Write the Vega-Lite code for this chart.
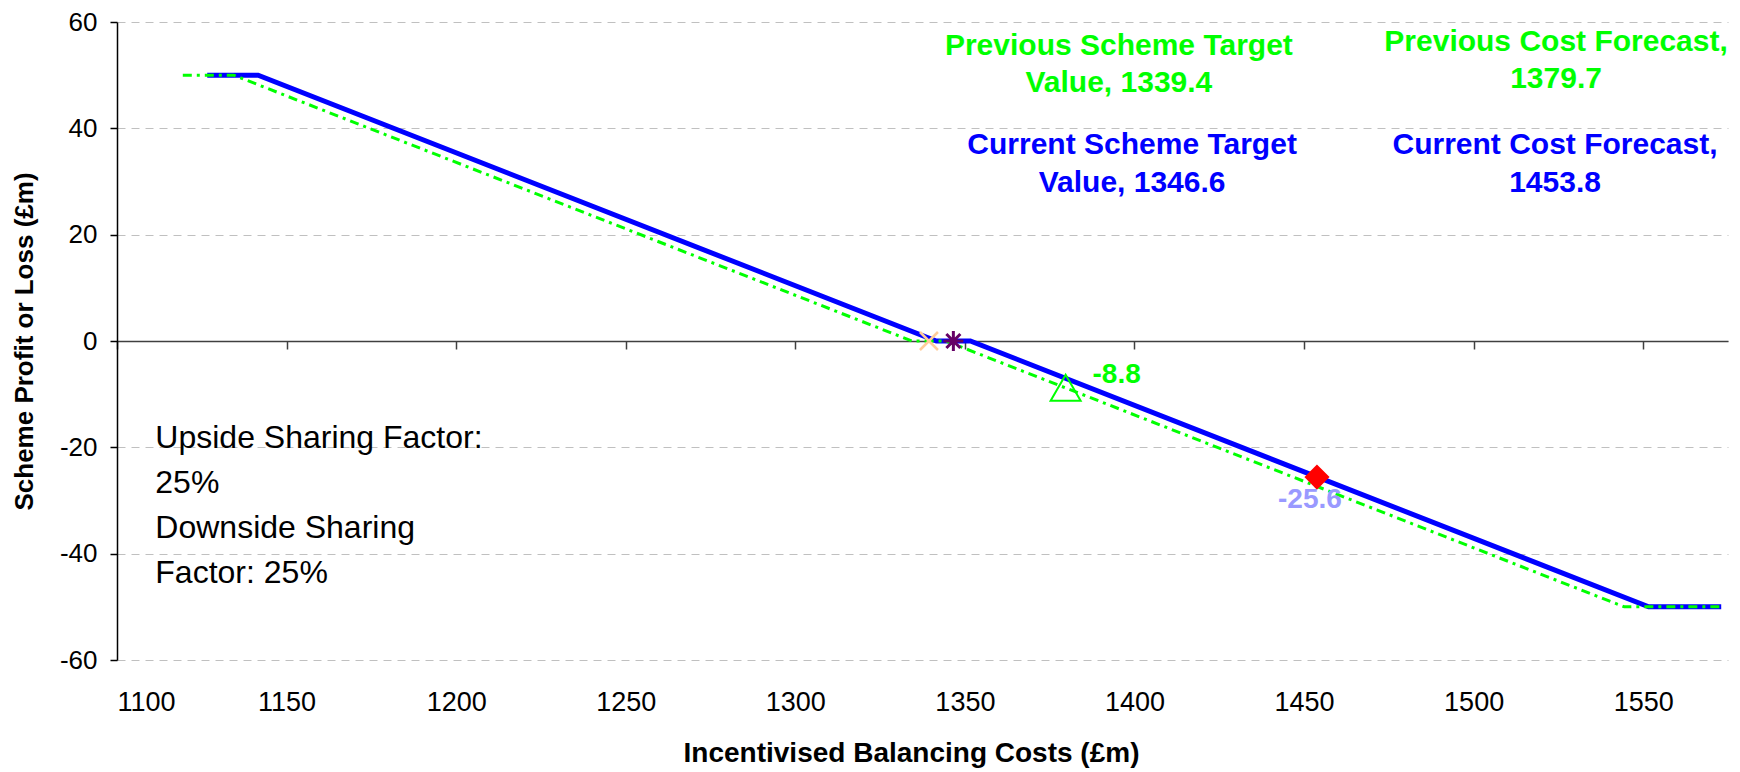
{
  "$schema": "https://vega.github.io/schema/vega-lite/v6.json",
  "autosize": "none",
  "width": 1611,
  "height": 638,
  "padding": {"left": 117, "top": 22, "right": 12, "bottom": 112},
  "background": "white",
  "config": {"view": {"stroke": null}, "font": "Liberation Sans"},
  "datasets": {
    "current": [
      {"cost": 1126.6, "profit": 50},
      {"cost": 1141.6, "profit": 50},
      {"cost": 1341.6, "profit": 0},
      {"cost": 1351.6, "profit": 0},
      {"cost": 1551.6, "profit": -50},
      {"cost": 1573, "profit": -50}
    ],
    "previous": [
      {"cost": 1119.4, "profit": 50},
      {"cost": 1134.4, "profit": 50},
      {"cost": 1334.4, "profit": 0},
      {"cost": 1344.4, "profit": 0},
      {"cost": 1544.4, "profit": -50},
      {"cost": 1573, "profit": -50}
    ],
    "markers": [
      {"cost": 1339.4, "profit": 0, "series": "prevTarget", "label": ""},
      {"cost": 1346.6, "profit": 0, "series": "curTarget", "label": ""},
      {"cost": 1379.7, "profit": -8.8, "series": "prevForecast", "label": "-8.8"},
      {"cost": 1453.8, "profit": -25.6, "series": "curForecast", "label": "-25.6"}
    ],
    "notes": [
      {"cost": 1395.4, "profit": 55.4, "text": "Previous Scheme Target\nValue, 1339.4", "group": "previous"},
      {"cost": 1524.3, "profit": 56.2, "text": "Previous Cost Forecast,\n1379.7", "group": "previous"},
      {"cost": 1399.3, "profit": 36.8, "text": "Current Scheme Target\nValue, 1346.6", "group": "current"},
      {"cost": 1524.0, "profit": 36.8, "text": "Current Cost Forecast,\n1453.8", "group": "current"},
      {"cost": 1111.3, "profit": -18.2, "text": "Upside Sharing Factor:\n25%\nDownside Sharing\nFactor: 25%", "group": "factor"}
    ]
  },
  "encoding": {
    "x": {
      "field": "cost", "type": "quantitative",
      "scale": {"domain": [1100, 1575], "nice": false, "zero": false},
      "axis": {
        "orient": "bottom", "offset": -319,
        "values": [1100, 1150, 1200, 1250, 1300, 1350, 1400, 1450, 1500, 1550],
        "labelExpr": "'' + datum.value",
        "grid": false,
        "domainColor": "#404040", "domainWidth": 1.5,
        "tickColor": "#404040", "tickSize": 8, "tickWidth": 1.5,
        "labelPadding": 353, "labelBaseline": "middle", "labelFontSize": 27, "labelColor": "black",
        "title": "Incentivised Balancing Costs (£m)",
        "titleFontSize": 28, "titleFontWeight": "bold", "titleColor": "black",
        "titleX": 794, "titleY": 412, "titleBaseline": "middle", "titleAlign": "center"
      }
    },
    "y": {
      "field": "profit", "type": "quantitative",
      "scale": {"domain": [-60, 60], "nice": false, "zero": false},
      "axis": {
        "values": [-60, -40, -20, 0, 20, 40, 60],
        "labelExpr": "'' + datum.value",
        "grid": true, "gridDash": [8, 6], "gridColor": "#C0C0C0", "gridWidth": 1,
        "domainColor": "black", "domainWidth": 1.5,
        "tickColor": "black", "tickSize": 7, "tickWidth": 1.5,
        "labelFontSize": 26, "labelColor": "black", "labelPadding": 13,
        "title": "Scheme Profit or Loss (£m)",
        "titleFontSize": 26, "titleFontWeight": "bold", "titleColor": "black",
        "titleX": -93, "titleY": 319, "titleBaseline": "middle", "titleAlign": "center", "titleAngle": -90
      }
    }
  },
  "layer": [
    {
      "data": {"name": "current"},
      "mark": {"type": "line", "color": "#0000FF", "strokeWidth": 5}
    },
    {
      "data": {"name": "previous"},
      "mark": {"type": "line", "color": "#00FF00", "strokeWidth": 3, "strokeDash": [9, 5, 3, 5]}
    },
    {
      "data": {"name": "markers"},
      "transform": [{"filter": "datum.series === 'prevTarget'"}],
      "mark": {"type": "point", "shape": "M-1,-1L1,1M-1,1L1,-1", "filled": false, "stroke": "#FFCC99", "strokeWidth": 2.5, "size": 324, "opacity": 1}
    },
    {
      "data": {"name": "markers"},
      "transform": [{"filter": "datum.series === 'curTarget'"}],
      "mark": {"type": "point", "shape": "M-1,0L1,0M0,-1L0,1M-0.7,-0.7L0.7,0.7M-0.7,0.7L0.7,-0.7", "filled": false, "stroke": "#660066", "strokeWidth": 3, "size": 400, "opacity": 1}
    },
    {
      "data": {"name": "markers"},
      "transform": [{"filter": "datum.series === 'prevForecast'"}],
      "mark": {"type": "point", "shape": "triangle-up", "filled": false, "stroke": "#00FF00", "strokeWidth": 2, "size": 900, "opacity": 1}
    },
    {
      "data": {"name": "markers"},
      "transform": [{"filter": "datum.series === 'curForecast'"}],
      "mark": {"type": "point", "shape": "diamond", "filled": true, "fill": "#FF0000", "stroke": "#FF0000", "size": 500, "opacity": 1}
    },
    {
      "data": {"name": "markers"},
      "transform": [{"filter": "datum.series === 'prevForecast'"}],
      "mark": {"type": "text", "color": "#00FF00", "fontSize": 28, "fontWeight": "bold", "align": "center", "baseline": "middle", "dx": 51, "dy": -13},
      "encoding": {"text": {"field": "label"}}
    },
    {
      "data": {"name": "markers"},
      "transform": [{"filter": "datum.series === 'curForecast'"}],
      "mark": {"type": "text", "color": "#9999FF", "fontSize": 28, "fontWeight": "bold", "align": "center", "baseline": "middle", "dx": -7, "dy": 23},
      "encoding": {"text": {"field": "label"}}
    },
    {
      "data": {"name": "notes"},
      "transform": [{"filter": "datum.group === 'previous'"}],
      "mark": {"type": "text", "color": "#00FF00", "fontSize": 30, "fontWeight": "bold", "align": "center", "baseline": "middle", "lineBreak": "\n", "lineHeight": 37},
      "encoding": {"text": {"field": "text"}}
    },
    {
      "data": {"name": "notes"},
      "transform": [{"filter": "datum.group === 'current'"}],
      "mark": {"type": "text", "color": "#0000FF", "fontSize": 30, "fontWeight": "bold", "align": "center", "baseline": "middle", "lineBreak": "\n", "lineHeight": 38},
      "encoding": {"text": {"field": "text"}}
    },
    {
      "data": {"name": "notes"},
      "transform": [{"filter": "datum.group === 'factor'"}],
      "mark": {"type": "text", "color": "black", "fontSize": 32, "align": "left", "baseline": "middle", "lineBreak": "\n", "lineHeight": 45},
      "encoding": {"text": {"field": "text"}}
    }
  ]
}
